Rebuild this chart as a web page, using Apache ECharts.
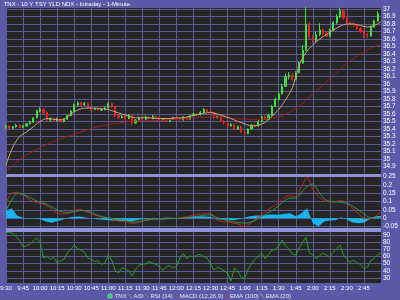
<!DOCTYPE html>
<html><head><meta charset="utf-8">
<script src="https://cdn.jsdelivr.net/npm/echarts@6/dist/echarts.min.js"></script>
<style>html,body{margin:0;padding:0;background:#5a5aa8}#c{width:400px;height:300px}</style>
</head><body><div id="c"></div>
<script>
const TITLE = '.TNX - 10 Y TSY YLD NDX - Intraday - 1-Minute';
const TIME_LABELS = ['9:30','9:45','10:00','10:15','10:30','10:45','11:00','11:15','11:30','11:45','12:00','12:15','12:30','12:45','1:00','1:15','1:30','1:45','2:00','2:15','2:30','2:45','3:00'];
const LEGEND_NAMES = ['.TNX','A/D','RSI (14)','MACD (12,26,9)','EMA (100)','EMA (20)'];

// 3-minute bars from 9:30: [open, close, low, high]
const BAR_MIN = 3;
const CANDLES = [
[35.42,35.44,35.40,35.46],[35.44,35.41,35.40,35.45],[35.41,35.43,35.40,35.44],[35.43,35.45,35.42,35.47],[35.45,35.42,35.41,35.46],
[35.42,35.44,35.41,35.45],[35.44,35.47,35.43,35.48],[35.47,35.49,35.46,35.51],[35.49,35.55,35.48,35.56],[35.55,35.64,35.54,35.66],
[35.64,35.66,35.62,35.69],[35.66,35.62,35.60,35.68],[35.62,35.52,35.50,35.63],[35.52,35.54,35.50,35.56],[35.54,35.51,35.50,35.55],
[35.51,35.53,35.50,35.55],[35.53,35.50,35.49,35.54],[35.50,35.53,35.49,35.54],[35.53,35.58,35.52,35.59],[35.58,35.64,35.57,35.65],
[35.64,35.72,35.63,35.74],[35.72,35.75,35.70,35.77],[35.75,35.72,35.70,35.76],[35.72,35.74,35.71,35.76],[35.74,35.68,35.67,35.75],
[35.68,35.66,35.65,35.69],[35.66,35.67,35.65,35.68],[35.67,35.65,35.64,35.68],[35.65,35.66,35.64,35.67],[35.66,35.68,35.65,35.70],
[35.68,35.74,35.67,35.76],[35.74,35.70,35.68,35.75],[35.70,35.58,35.56,35.71],[35.58,35.55,35.53,35.60],[35.55,35.57,35.54,35.59],
[35.57,35.54,35.52,35.58],[35.54,35.58,35.53,35.60],[35.58,35.48,35.46,35.59],[35.48,35.52,35.47,35.53],[35.52,35.55,35.51,35.57],
[35.55,35.53,35.52,35.56],[35.53,35.56,35.52,35.58],[35.56,35.54,35.53,35.57],[35.54,35.57,35.53,35.59],[35.57,35.55,35.54,35.58],
[35.55,35.52,35.51,35.56],[35.52,35.54,35.51,35.55],[35.54,35.50,35.49,35.55],[35.50,35.53,35.49,35.54],[35.53,35.55,35.52,35.56],
[35.55,35.54,35.53,35.57],[35.54,35.52,35.51,35.55],[35.52,35.56,35.51,35.57],[35.56,35.53,35.52,35.57],[35.53,35.58,35.52,35.59],
[35.58,35.60,35.57,35.62],[35.60,35.59,35.57,35.61],[35.59,35.62,35.58,35.64],[35.62,35.66,35.61,35.68],[35.66,35.63,35.62,35.67],
[35.63,35.62,35.60,35.65],[35.62,35.55,35.53,35.63],[35.55,35.57,35.54,35.58],[35.57,35.50,35.49,35.58],[35.50,35.48,35.46,35.52],
[35.48,35.44,35.42,35.49],[35.44,35.46,35.43,35.48],[35.46,35.40,35.38,35.47],[35.40,35.43,35.39,35.45],[35.43,35.36,35.35,35.44],
[35.36,35.34,35.32,35.38],[35.34,35.40,35.33,35.41],[35.40,35.45,35.39,35.47],[35.45,35.44,35.42,35.47],[35.44,35.50,35.43,35.52],
[35.50,35.56,35.49,35.58],[35.56,35.53,35.52,35.58],[35.53,35.58,35.52,35.60],[35.58,35.70,35.57,35.72],[35.70,35.80,35.69,35.82],
[35.80,35.87,35.78,35.89],[35.87,35.97,35.86,36.00],[35.97,36.10,35.96,36.14],[36.10,36.12,36.06,36.16],[36.12,36.06,36.04,36.14],
[36.06,36.15,36.05,36.17],[36.15,36.28,36.14,36.30],[36.28,36.45,36.27,36.52],[36.45,36.80,36.44,37.03],[36.80,36.62,36.60,36.82],
[36.62,36.58,36.55,36.65],[36.58,36.66,36.56,36.70],[36.66,36.72,36.64,36.81],[36.72,36.68,36.65,36.74],[36.68,36.64,36.62,36.70],
[36.64,36.72,36.63,36.74],[36.72,36.82,36.71,36.84],[36.82,36.90,36.80,36.93],[36.90,36.98,36.88,37.02],[36.98,36.88,36.86,36.99],
[36.88,36.82,36.80,36.89],[36.82,36.80,36.78,36.83],[36.80,36.78,36.76,36.82],[36.78,36.74,36.72,36.79],[36.74,36.70,36.68,36.76],
[36.70,36.66,36.62,36.72],[36.66,36.64,36.61,36.68],[36.64,36.76,36.63,36.78],[36.76,36.84,36.75,36.86],[36.84,36.94,36.83,36.97]
];

const EMA20_STEP = 6;
const EMA20 = [34.92,35.16,35.30,35.36,35.43,35.50,35.54,35.53,35.52,35.56,35.63,35.67,35.68,35.68,35.67,35.66,35.63,35.60,35.57,35.55,
35.55,35.55,35.54,35.54,35.54,35.55,35.55,35.57,35.59,35.61,35.62,35.60,35.57,35.54,35.50,35.47,35.44,35.45,35.49,35.57,
35.66,35.79,35.95,36.25,36.42,36.52,36.60,36.66,36.72,36.77,36.80,36.80,36.78,36.76,36.78,36.83];

const EMA100_STEP = 10;
const EMA100 = [34.83,34.97,35.07,35.15,35.22,35.28,35.33,35.38,35.43,35.46,35.48,35.50,35.51,35.51,35.52,35.53,35.54,35.55,35.56,35.56,
35.54,35.53,35.53,35.54,35.56,35.63,35.73,35.87,36.00,36.14,36.28,36.38,36.47,36.53];

const MACD_STEP = 5;
const MACD = [0.09,0.15,0.155,0.14,0.115,0.095,0.09,0.08,0.055,0.03,
0.025,0.028,0.045,0.054,0.04,0.028,0.014,0.006,0.002,-0.01,
-0.018,-0.02,-0.03,-0.028,-0.018,-0.012,-0.005,-0.008,-0.004,0.0,
-0.002,0.004,0.01,0.018,0.024,0.028,0.03,-0.01,-0.02,-0.024,
-0.03,-0.036,-0.05,-0.03,-0.005,0.02,0.048,0.07,0.092,0.125,
0.135,0.13,0.19,0.245,0.175,0.13,0.105,0.098,0.1,0.105,
0.09,0.06,0.028,0.0,-0.002,0.012,0.035];
const SIGNAL = [0.045,0.11,0.148,0.142,0.128,0.11,0.095,0.085,0.068,0.05,
0.037,0.035,0.038,0.046,0.045,0.034,0.02,0.008,0.003,-0.003,
-0.008,-0.014,-0.022,-0.024,-0.016,-0.008,-0.006,-0.006,-0.005,-0.002,
-0.001,0.0,0.004,0.008,0.012,0.018,0.02,0.005,-0.006,-0.014,
-0.022,-0.026,-0.03,-0.025,-0.01,0.008,0.03,0.048,0.075,0.105,
0.12,0.12,0.155,0.19,0.205,0.16,0.118,0.1,0.098,0.095,
0.09,0.072,0.05,0.025,0.004,0.001,0.006];
const HIST = [0.045,0.06,0.015,0.002,-0.004,-0.002,-0.005,-0.02,-0.028,-0.018,
-0.008,0.004,0.008,0.01,0.004,0.0,-0.006,-0.01,-0.012,-0.016,
-0.018,-0.015,-0.02,-0.012,-0.006,-0.002,0.002,-0.002,0.004,0.003,
-0.003,0.004,0.006,0.01,0.012,0.01,0.008,-0.006,-0.01,-0.008,
-0.012,-0.006,0.004,0.012,0.016,0.014,0.02,0.022,0.02,0.026,
0.03,0.012,0.03,0.06,-0.03,-0.05,-0.02,-0.014,-0.012,0.006,
-0.008,-0.026,-0.03,-0.028,-0.006,0.012,0.014];

const RSI_STEP = 3;
const RSI = [93,94,92,88,82,73,75,77,82,86,
80,58,60,56,59,51,54,56,65,70,
76,71,69,66,58,56,53,54,49,51,
62,55,41,37,44,43,40,33,42,48,
49,50,53,51,49,46,41,45,47,44,
46,58,64,57,61,59,62,63,60,58,
50,41,45,43,40,37,26,44,40,31,
29,42,50,56,60,65,57,63,69,70,
74,83,75,70,64,62,72,80,87,65,
62,57,61,65,62,59,66,71,76,62,
56,52,55,51,49,43,45,54,58,62,
65];

const BG = '#5a5aa8', PANEL = '#262626', GRID = '#5b5a98', BAND = '#9292d6';
const FONT = "'Liberation Sans', Arial, sans-serif";
const withTime = (arr, step) => arr.map((v, i) => [i * step, v]);
const candleData = CANDLES.map((r, i) => [i * BAR_MIN, r[0], r[1], r[2], r[3]]);

const L = 6, R = 19;
const hiddenX = (gi) => ({type:'value', gridIndex: gi, min: 0, max: 330, interval: 15, show: false});
const lab = {color:'#ffffff', fontSize: 6.5, fontFamily: FONT, margin: 2};
const yAx = (gi, min, max, interval, extra) => Object.assign({
  type:'value', gridIndex: gi, position:'right', min, max, interval,
  axisLine:{show:false}, axisTick:{show:false},
  splitLine:{show:true, lineStyle:{color:GRID, width:1}},
  axisLabel: Object.assign({}, lab)
}, extra || {});

// legend layout: measure text and spread entries over the legend span
const LEG_FS = 6;
const ctx = document.createElement('canvas').getContext('2d');
ctx.font = LEG_FS + "px " + FONT;
const legendStyle = [
  {icon:'circle', color:'#2cc86a'},
  {icon:'line', color:'#7f9a8a'},
  {icon:'line', color:'#6f9a7f'},
  {icon:'line', color:'#b0406a'},
  {icon:'line', color:'#c03030'},
  {icon:'line', color:'#a0a0a0'}
];
const LEG_X0 = 108, LEG_X1 = 291, ICON_W = 5;
const widths = LEGEND_NAMES.map(n => ctx.measureText(n).width);
const legGap = (LEG_X1 - LEG_X0 - widths.reduce((a, b) => a + b, 0) - ICON_W * LEGEND_NAMES.length) / (LEGEND_NAMES.length - 1);

const graphics = [
  {type:'rect', shape:{x:L, y:174, width:400-L-R, height:3}, style:{fill:BAND}, z:1, silent:true},
  {type:'rect', shape:{x:L, y:228, width:400-L-R, height:4}, style:{fill:BAND}, z:1, silent:true},
  {type:'text', x:2, y:4, style:{text:TITLE, fill:'#ffffff', fontSize:6, fontFamily:FONT, verticalAlign:'middle'}, z:5}
];
let lx = LEG_X0;
legendStyle.forEach((it, i) => {
  if (it.icon === 'circle') {
    graphics.push({type:'circle', shape:{cx:lx + 2, cy:296, r:2.3}, style:{fill:it.color, stroke:'#9fe0ff', lineWidth:0.6}, z:5});
  } else {
    graphics.push({type:'line', shape:{x1:lx, y1:293.5, x2:lx + 3, y2:298.5}, style:{stroke:it.color, lineWidth:1}, z:5});
  }
  graphics.push({type:'text', x:lx + ICON_W, y:296,
    style:{text:LEGEND_NAMES[i], fill:'#e8e8f4', fontSize:LEG_FS, fontFamily:FONT, verticalAlign:'middle'}, z:5});
  lx += ICON_W + widths[i] + legGap;
});

const chart = echarts.init(document.getElementById('c'), null, {renderer:'canvas'});
chart.setOption({
  backgroundColor: BG,
  animation: false,
  grid: [
    {left:L, right:R, top:7, height:167, outerBoundsMode:'none'},
    {left:L, right:R, top:176.5, height:50, outerBoundsMode:'none'},
    {left:L, right:R, top:235, height:43, outerBoundsMode:'none'},
    {left:L, right:R, top:7, height:276, outerBoundsMode:'none', show:true, backgroundColor:PANEL, borderWidth:0}
  ],
  xAxis: [hiddenX(0), hiddenX(1), hiddenX(2), {
    type:'value', gridIndex:3, min:0, max:330, interval:15,
    axisLine:{show:false}, axisTick:{show:false},
    splitLine:{show:true, lineStyle:{color:GRID, width:1}},
    axisLabel: Object.assign({}, lab, {fontSize:6, margin:2.5, showMaxLabel:false, hideOverlap:false,
      formatter: v => TIME_LABELS[Math.round(v / 15)]})
  }],
  yAxis: [
    yAx(0, 34.8, 37.027, 0.1, {axisLabel: Object.assign({}, lab, {showMinLabel:false, showMaxLabel:false})}),
    yAx(1, -0.05, 0.25, 0.05),
    yAx(2, 30, 90, 10),
    {type:'value', gridIndex:3, show:false, min:0, max:1}
  ],
  graphic: graphics,
  series: [
    {type:'candlestick', name:'.TNX', xAxisIndex:0, yAxisIndex:0, data:candleData, barWidth:1.6, clip:false,
     itemStyle:{color:'#2ed42e', color0:'#e81c1c', borderColor:'#40e040', borderColor0:'#f02020', borderWidth:1}},
    {type:'line', name:'EMA (100)', xAxisIndex:0, yAxisIndex:0, data:withTime(EMA100, EMA100_STEP), smooth:0.3, symbol:'none',
     lineStyle:{color:'#a31c1c', width:1}, z:3},
    {type:'line', name:'EMA (20)', xAxisIndex:0, yAxisIndex:0, data:withTime(EMA20, EMA20_STEP), smooth:0.3, symbol:'none',
     lineStyle:{color:'#c8a478', width:1}, z:4},
    {type:'line', name:'MACD hist', xAxisIndex:1, yAxisIndex:1, data:withTime(HIST, MACD_STEP), symbol:'none',
     lineStyle:{width:0, color:'#1ab4ec'}, areaStyle:{color:'#1ab4ec', opacity:1, origin:0}},
    {type:'line', name:'MACD (12,26,9)', xAxisIndex:1, yAxisIndex:1, data:withTime(MACD, MACD_STEP), smooth:0.3, symbol:'none',
     lineStyle:{color:'#cc2222', width:1}},
    {type:'line', name:'Signal', xAxisIndex:1, yAxisIndex:1, data:withTime(SIGNAL, MACD_STEP), smooth:0.3, symbol:'none',
     lineStyle:{color:'#2a9a50', width:1}},
    {type:'line', name:'RSI (14)', xAxisIndex:2, yAxisIndex:2, data:withTime(RSI, RSI_STEP), symbol:'none', clip:false,
     lineStyle:{color:'#24a024', width:1}}
  ]
});
</script></body></html>
